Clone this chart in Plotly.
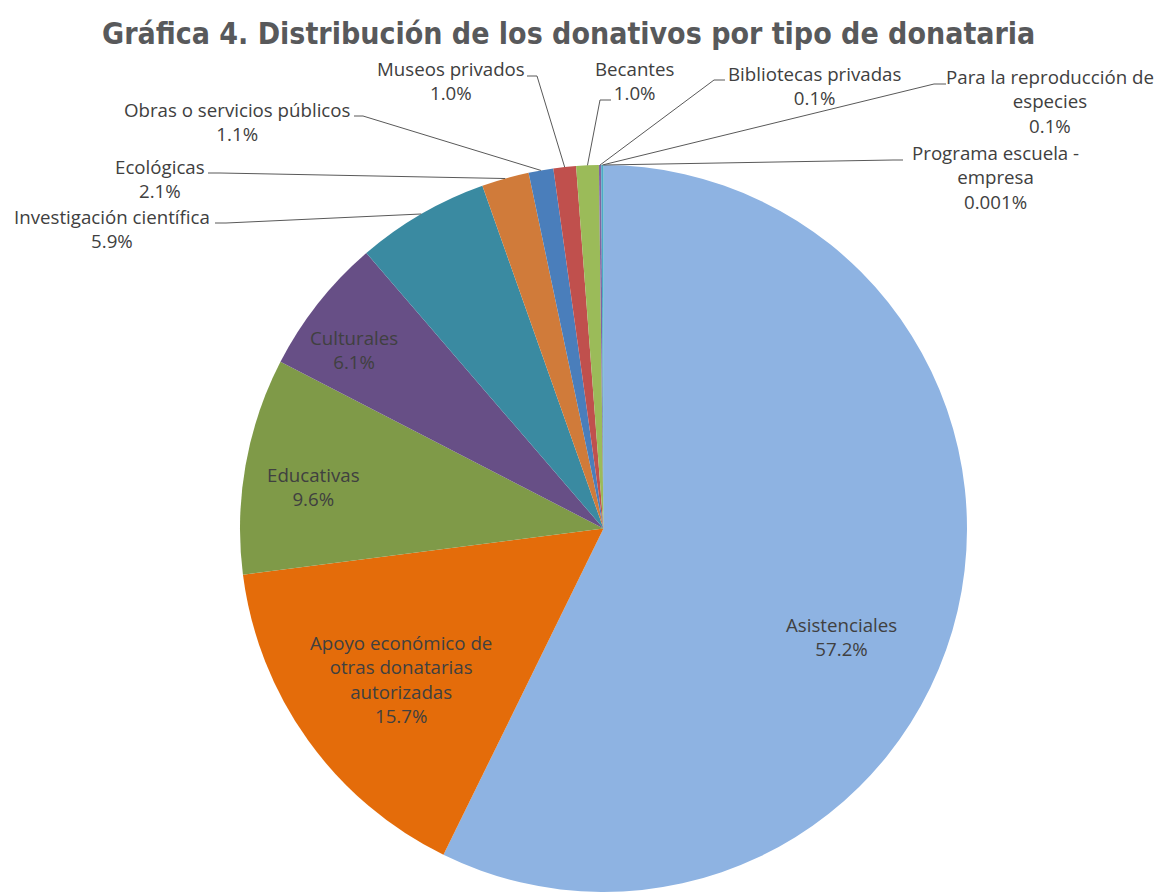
import math
import plotly.graph_objects as go

# Donation shares by recipient type (percent), clockwise from 12 o'clock
categories = [
    "Asistenciales",
    "Apoyo económico de otras donatarias autorizadas",
    "Educativas",
    "Culturales",
    "Investigación científica",
    "Ecológicas",
    "Obras o servicios públicos",
    "Museos privados",
    "Becantes",
    "Bibliotecas privadas",
    "Para la reproducción de especies",
    "Programa escuela - empresa",
]
shares = [57.2, 15.7, 9.6, 6.1, 5.9, 2.1, 1.1, 1.0, 1.0, 0.1, 0.1, 0.001]

# Label wording with the line breaks used on the chart
display_names = [
    "Asistenciales",
    "Apoyo económico de<br>otras donatarias<br>autorizadas",
    "Educativas",
    "Culturales",
    "Investigación científica",
    "Ecológicas",
    "Obras o servicios públicos",
    "Museos privados",
    "Becantes",
    "Bibliotecas privadas",
    "Para la reproducción de<br>especies",
    "Programa escuela -<br>empresa",
]

colors = [
    "#8EB3E2", "#E46C0A", "#7F9A48", "#674F86", "#3A8AA1", "#D07B3A",
    "#4A7EBB", "#C0504D", "#9BBB59", "#8064A2", "#4BACC6", "#F79646",
]

W, H = 1156, 892

# Pie geometry in pixels
CX, R = 603.5, 363.5
TOP = 165
CY = TOP + R

# Label placement (pixel centre of each text block)
label_pos = [
    (842, 636), (401, 679), (313, 487), (354, 349),
    (112, 228), (160, 178), (237, 121), (451, 81),
    (635, 81), (814, 85), (1050, 101), (995, 177),
]
# Leader stubs next to outside labels: (x_start, x_end, y) in pixels
stubs = [
    None, None, None, None,
    (215, 226, 223), (208, 220, 173), (354, 363, 116), (527, 537, 76),
    (611, 600, 100), (725, 714, 80), (946, 934, 84), (903, 893, 160),
]


def fmt_share(v):
    return f"{v:.1f}%" if v >= 0.1 else f"{v:.3f}%"


def px(x):
    return x / W


def py(y):
    return 1 - y / H


fig = go.Figure(
    go.Pie(
        labels=categories,
        values=shares,
        sort=False,
        direction="clockwise",
        rotation=0,
        marker=dict(colors=colors, line=dict(width=0)),
        textinfo="none",
        hoverinfo="label+percent",
        showlegend=False,
        domain=dict(
            x=[px(CX - R), px(CX + R)],
            y=[py(CY + R), py(CY - R)],
        ),
    )
)

total = sum(shares)
annotations = []
shapes = []
cum = 0.0
for name, val, pos, stub in zip(display_names, shares, label_pos, stubs):
    mid = (cum + val / 2) / total * 2 * math.pi
    cum += val
    annotations.append(dict(
        x=px(pos[0]), y=py(pos[1]), xref="paper", yref="paper",
        text=f"{name}<br>{fmt_share(val)}", showarrow=False,
        xanchor="center", yanchor="middle", align="center",
        font=dict(family="Open Sans, sans-serif", size=18.7, color="#404040"),
    ))
    if stub is not None:
        ex = CX + R * math.sin(mid)
        ey = CY - R * math.cos(mid)
        path = (f"M {px(stub[0])},{py(stub[2])} L {px(stub[1])},{py(stub[2])} "
                f"L {px(ex)},{py(ey)}")
        shapes.append(dict(type="path", xref="paper", yref="paper", path=path,
                           line=dict(color="#595959", width=1)))

annotations.append(dict(
    x=px(568), y=py(33), xref="paper", yref="paper",
    text="<b>Gráfica 4. Distribución de los donativos por tipo de donataria</b>",
    showarrow=False, xanchor="center", yanchor="middle",
    font=dict(family="DejaVu Sans Condensed, Roboto, sans-serif",
              size=30, color="#58595B"),
))

fig.update_layout(
    width=W, height=H,
    margin=dict(l=0, r=0, t=0, b=0),
    paper_bgcolor="white",
    plot_bgcolor="white",
    annotations=annotations,
    shapes=shapes,
)

fig.write_html("out.html")
